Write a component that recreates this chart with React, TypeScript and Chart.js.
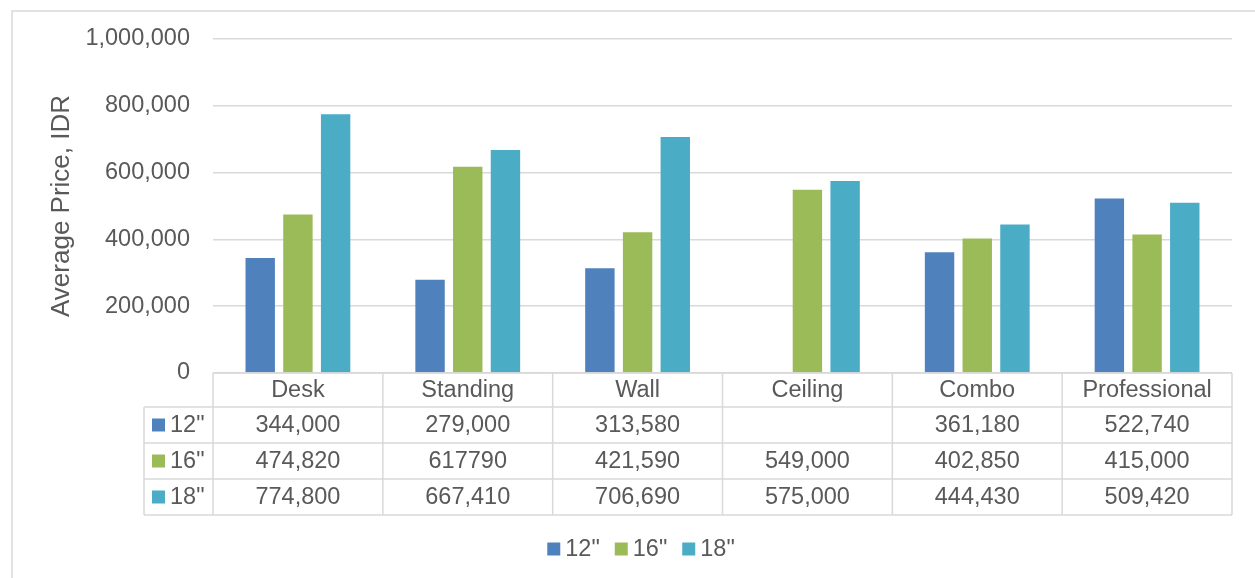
import React, { useEffect, useRef } from "react";
import { Chart, registerables } from "chart.js";

Chart.register(...registerables);

const categories = ["Desk", "Standing", "Wall", "Ceiling", "Combo", "Professional"];
const seriesNames = ['12"', '16"', '18"'];
const values12: (number | null)[] = [344000, 279000, 313580, null, 361180, 522740];
const values16: (number | null)[] = [474820, 617790, 421590, 549000, 402850, 415000];
const values18: (number | null)[] = [774800, 667410, 706690, 575000, 444430, 509420];
const seriesColors = ["#4f81bd", "#9bbb59", "#4bacc6"];
const yMin = 0;
const yMax = 1000000;
const yStep = 200000;
const yTitle = "Average Price, IDR";
// cells that the source table prints without a thousands separator: [series, category]
const unformattedCells: [number, number][] = [[1, 1]];

const FONT = '"Liberation Sans", Arial, sans-serif';
const TEXT = "#595959";
const LINE = "#d9d9d9";
const FS = 23.5;

const allSeries = [values12, values16, values18];

function cellText(s: number, c: number): string {
  const v = allSeries[s][c];
  if (v === null || v === undefined) return "";
  if (unformattedCells.some(([a, b]) => a === s && b === c)) return String(v);
  return v.toLocaleString("en-US");
}

const tablePlugin = {
  id: "dataTableAndLegend",
  afterDraw(chart: any) {
    const ctx: CanvasRenderingContext2D = chart.ctx;
    const area = chart.chartArea;
    const xs = chart.scales.x;
    const n = categories.length;
    const colW = (area.right - area.left) / n;
    const top = area.bottom;
    const headerH = 34;
    const rowH = 36;
    const labelLeft = 144;
    const bottom = top + headerH + rowH * seriesNames.length;

    ctx.save();
    ctx.strokeStyle = LINE;
    ctx.lineWidth = 1.5;

    // outer chart frame
    ctx.strokeRect(12, 11, chart.width + 100, chart.height + 100);

    // horizontal lines
    ctx.beginPath();
    ctx.moveTo(area.left, top);
    ctx.lineTo(area.right, top);
    for (let r = 0; r <= seriesNames.length; r++) {
      const y = top + headerH + rowH * r;
      ctx.moveTo(labelLeft, y);
      ctx.lineTo(area.right, y);
    }
    // vertical lines
    ctx.moveTo(labelLeft, top + headerH);
    ctx.lineTo(labelLeft, bottom);
    for (let i = 0; i <= n; i++) {
      const x = area.left + colW * i;
      ctx.moveTo(x, top);
      ctx.lineTo(x, bottom);
    }
    ctx.stroke();

    ctx.font = `${FS}px ${FONT}`;
    ctx.fillStyle = TEXT;
    ctx.textBaseline = "middle";
    ctx.textAlign = "center";
    // header
    for (let i = 0; i < n; i++) {
      const cx = xs.getPixelForValue(i);
      ctx.fillText(categories[i], cx, top + headerH / 2 + 1);
    }
    // rows
    for (let s = 0; s < seriesNames.length; s++) {
      const cy = top + headerH + rowH * (s + 0.5);
      ctx.fillStyle = seriesColors[s];
      ctx.fillRect(152, cy - 6.5, 13, 13);
      ctx.fillStyle = TEXT;
      ctx.textAlign = "left";
      ctx.fillText(seriesNames[s], 170, cy + 1);
      ctx.textAlign = "center";
      for (let i = 0; i < n; i++) {
        const cx = xs.getPixelForValue(i);
        ctx.fillText(cellText(s, i), cx, cy + 1);
      }
    }

    // legend
    const legendY = 549;
    const box = 13;
    const gapText = 5;
    const gapItem = 15;
    const widths = seriesNames.map((t) => box + gapText + ctx.measureText(t).width);
    const total = widths.reduce((a, b) => a + b, 0) + gapItem * (widths.length - 1);
    let x = 641 - total / 2;
    ctx.textAlign = "left";
    for (let s = 0; s < seriesNames.length; s++) {
      ctx.fillStyle = seriesColors[s];
      ctx.fillRect(x, legendY - box / 2, box, box);
      ctx.fillStyle = TEXT;
      ctx.fillText(seriesNames[s], x + box + gapText, legendY + 1);
      x += widths[s] + gapItem;
    }
    ctx.restore();
  },
};

export default function App() {
  const canvasRef = useRef<HTMLCanvasElement | null>(null);

  useEffect(() => {
    document.body.style.margin = "0";
    const canvas = canvasRef.current;
    if (!canvas) return;
    const chart = new Chart(canvas, {
      type: "bar",
      data: {
        labels: categories,
        datasets: allSeries.map((vals, i) => ({
          label: seriesNames[i],
          data: vals,
          backgroundColor: seriesColors[i],
          borderWidth: 0,
          categoryPercentage: 0.666,
          barPercentage: 0.78,
        })),
      },
      options: {
        animation: false,
        responsive: true,
        maintainAspectRatio: false,
        layout: { padding: { left: 46, right: 23, top: 39, bottom: 205 } },
        plugins: {
          legend: { display: false },
          tooltip: { enabled: false },
        },
        scales: {
          x: {
            display: false,
          },
          y: {
            min: yMin,
            max: yMax,
            ticks: {
              stepSize: yStep,
              padding: 23,
              color: TEXT,
              font: { family: FONT, size: FS },
              callback: (v: any) => Number(v).toLocaleString("en-US"),
            },
            grid: { color: LINE, lineWidth: 1.5, drawTicks: false },
            border: { display: false },
            title: {
              display: true,
              text: yTitle,
              color: TEXT,
              font: { family: FONT, size: 26 },
              padding: { top: 0, bottom: 0 },
            },
            afterFit: (scale: any) => {
              scale.width = 213 - 46;
            },
          },
        },
      },
      plugins: [tablePlugin],
    });
    return () => chart.destroy();
  }, []);

  return (
    <div style={{ position: "relative", width: "1255px", height: "578px" }}>
      <canvas ref={canvasRef} />
    </div>
  );
}
